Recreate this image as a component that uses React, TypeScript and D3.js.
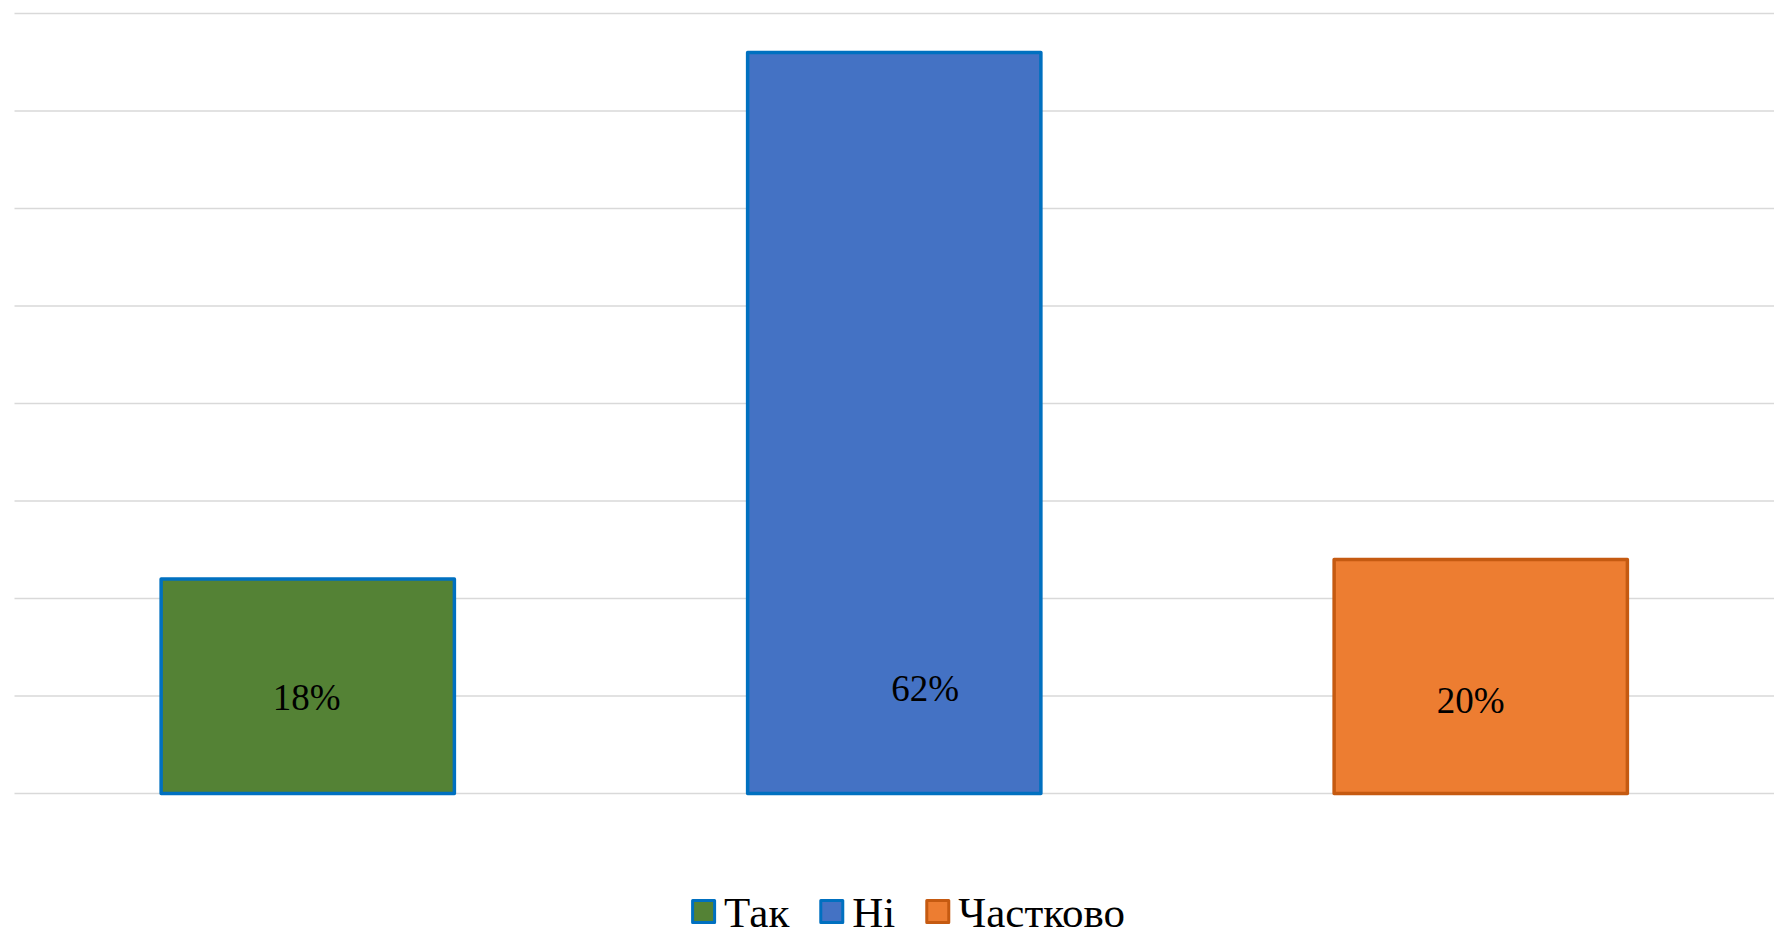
import { useEffect, useRef } from 'react'
import * as d3 from 'd3'

// respondents per answer (axis is in counts, labels show share)
const categories = ['Так', 'Ні', 'Частково']
const counts = [22, 76, 24]
const fills = ['#548235', '#4472C4', '#ED7D31']
const strokes = ['#0070C0', '#0070C0', '#C55A11']
const yTicks = [0, 10, 20, 30, 40, 50, 60, 70, 80]

const WIDTH = 1780
const HEIGHT = 937
const margin = { top: 13.5, right: 6, bottom: 143.5, left: 14.5 }
const FONT = '"Liberation Serif", "Times New Roman", serif'

// small hand nudges so labels sit where the original put them
const labelNudge: [number, number][] = [[-1, 24], [31, 278], [-10, 36]]

const App = () => {
  const ref = useRef<SVGSVGElement>(null)

  useEffect(() => {
    if (!ref.current) return
    const svg = d3.select(ref.current)
    svg.selectAll('*').remove()

    const innerW = WIDTH - margin.left - margin.right
    const innerH = HEIGHT - margin.top - margin.bottom
    const total = d3.sum(counts)

    const x = d3.scaleBand<string>()
      .domain(categories)
      .range([0, innerW])
      .paddingInner(0.5)
      .paddingOuter(0.25)

    const y = d3.scaleLinear().domain([0, 80]).range([innerH, 0])

    const g = svg.append('g').attr('transform', `translate(${margin.left},${margin.top})`)

    //gridlines
    g.append('g')
      .selectAll('line')
      .data(yTicks)
      .join('line')
        .attr('x1', 0)
        .attr('x2', innerW)
        .attr('y1', d => y(d))
        .attr('y2', d => y(d))
        .attr('stroke', '#D9D9D9')
        .attr('stroke-width', 1.5)

    //bars
    g.append('g')
      .selectAll('rect')
      .data(counts)
      .join('rect')
        .attr('x', (_, i) => x(categories[i])!)
        .attr('y', d => y(d))
        .attr('width', x.bandwidth())
        .attr('height', d => innerH - y(d))
        .attr('fill', (_, i) => fills[i])
        .attr('stroke', (_, i) => strokes[i])
        .attr('stroke-width', 3.5)
        .attr('stroke-linejoin', 'round')

    //data labels
    const pct = d3.format('.0%')
    g.append('g')
      .selectAll('text')
      .data(counts)
      .join('text')
        .attr('x', (_, i) => x(categories[i])! + x.bandwidth() / 2 + labelNudge[i][0])
        .attr('y', (d, i) => (y(d) + innerH) / 2 + labelNudge[i][1])
        .attr('text-anchor', 'middle')
        .attr('font-family', FONT)
        .attr('font-size', '37px')
        .attr('fill', '#000')
        .text(d => pct(d / total))

    //legend
    const legend = svg.append('g')
    const box = 22
    const sw = 3
    const textGap = 8
    const itemGap = 30
    const items = legend.selectAll('g')
      .data(categories)
      .join('g')
    items.append('rect')
      .attr('x', sw / 2)
      .attr('y', -box / 2)
      .attr('width', box)
      .attr('height', box)
      .attr('fill', (_, i) => fills[i])
      .attr('stroke', (_, i) => strokes[i])
      .attr('stroke-width', sw)
      .attr('stroke-linejoin', 'round')
    const texts = items.append('text')
      .attr('x', box + sw + textGap)
      .attr('y', 15)
      .attr('font-family', FONT)
      .attr('font-size', '43px')
      .attr('fill', '#000')
      .text(d => d)

    const widths = texts.nodes().map(n => (n as SVGTextElement).getComputedTextLength())
    let cursor = 0
    const offsets = widths.map(w => {
      const o = cursor
      cursor += box + sw + textGap + w + itemGap
      return o
    })
    const legendW = cursor - itemGap
    const legendX = 908 - legendW / 2
    items.attr('transform', (_, i) => `translate(${legendX + offsets[i]},911.5)`)

    return () => {
      svg.selectAll('*').remove()
    }
  }, [])

  return (
    <svg
      ref={ref}
      width={WIDTH}
      height={HEIGHT}
      style={{ position: 'absolute', left: 0, top: 0, background: '#fff' }}
    />
  )
}

export default App
